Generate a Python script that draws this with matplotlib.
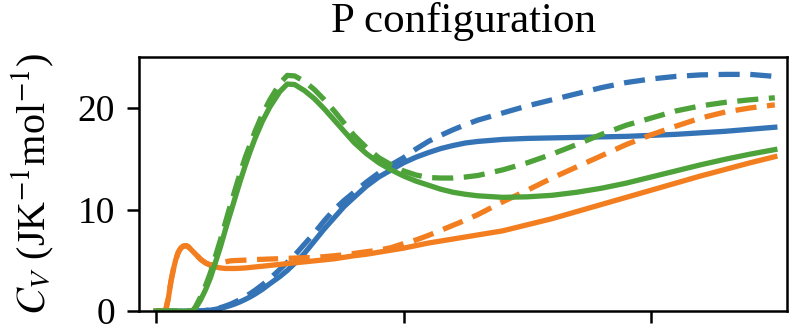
import matplotlib
matplotlib.use("Agg")
import matplotlib.pyplot as plt

# Temperature grid (K) shared by every curve
temperature = [0, 3, 4, 5, 6, 7, 8, 9, 10, 11, 12, 13, 14, 15, 16,
               18, 20, 22, 24, 26, 28, 30, 32, 34, 36, 38, 40,
               43, 46, 50, 53, 56, 60, 64, 68, 72, 76, 80, 85, 90, 95, 100,
               105, 110, 115, 120, 125, 130,
               140, 150, 160, 170, 180, 190, 200, 210, 220, 230, 240, 250]

# Heat capacity C_V (J K^-1 mol^-1), solid = one model, dashed = the other
blue_solid = [0, 0, 0, 0, 0, 0, 0, 0, 0, 0, 0, 0, 0, 0, 0,
              0.02, 0.05, 0.1, 0.18, 0.28, 0.4, 0.55, 0.72, 0.92, 1.15, 1.4, 1.68,
              2.15, 2.7, 3.4, 4.0, 4.7, 5.7, 6.9, 8.1, 9.2, 10.3, 11.2, 12.3, 13.2, 13.9, 14.6,
              15.15, 15.6, 16.0, 16.3, 16.55, 16.7,
              16.9, 17.0, 17.05, 17.1, 17.15, 17.2, 17.3, 17.4, 17.55, 17.7, 17.9, 18.1]
blue_dashed = [0, 0, 0, 0, 0, 0, 0, 0, 0, 0, 0, 0, 0, 0, 0,
               0.03, 0.07, 0.13, 0.22, 0.34, 0.5, 0.68, 0.9, 1.15, 1.42, 1.72, 2.05,
               2.6, 3.2, 4.1, 4.8, 5.5, 6.6, 7.7, 8.9, 10.0, 10.9, 11.7, 12.7, 13.6, 14.4, 15.1,
               15.95, 16.7, 17.3, 17.85, 18.35, 18.8,
               19.5, 20.2, 20.8, 21.4, 22.0, 22.5, 22.85, 23.1, 23.25, 23.3, 23.3, 23.1]
orange_solid = [0, 0, 0.2, 1.3, 2.9, 4.1, 5.1, 5.8, 6.2, 6.4, 6.45, 6.35, 6.1, 5.85, 5.6,
                5.1, 4.75, 4.5, 4.35, 4.25, 4.2, 4.2, 4.2, 4.22, 4.25, 4.3, 4.35,
                4.42, 4.5, 4.6, 4.68, 4.75, 4.85, 4.95, 5.05, 5.15, 5.3, 5.45, 5.6, 5.8, 6.0, 6.2,
                6.45, 6.7, 6.9, 7.1, 7.3, 7.5,
                7.9, 8.5, 9.1, 9.8, 10.5, 11.2, 11.9, 12.6, 13.3, 13.95, 14.6, 15.2]
orange_dashed = [0, 0, 0.2, 1.3, 2.9, 4.1, 5.1, 5.8, 6.2, 6.4, 6.45, 6.35, 6.1, 5.85, 5.6,
                 5.1, 4.75, 4.55, 4.6, 4.75, 4.85, 4.95, 4.98, 5.0, 5.02, 5.05, 5.08,
                 5.1, 5.13, 5.16, 5.2, 5.22, 5.26, 5.3, 5.36, 5.45, 5.55, 5.68, 5.85, 6.0, 6.25, 6.65,
                 7.0, 7.45, 7.95, 8.45, 8.95, 9.5,
                 10.75, 11.9, 13.1, 14.2, 15.3, 16.4, 17.35, 18.2, 19.0, 19.6, 20.0, 20.3]
green_solid = [0, 0, 0, 0, 0, 0, 0, 0, 0, 0, 0, 0, 0, 0.05, 0.3,
               1.1, 2.1, 3.3, 4.8, 6.3, 8.0, 9.6, 11.2, 12.8, 14.3, 15.7, 17.0,
               18.7, 20.1, 21.6, 22.35, 22.3, 21.7, 20.9, 19.9, 18.8, 17.7, 16.6, 15.5, 14.6, 13.9, 13.3,
               12.8, 12.4, 12.0, 11.7, 11.5, 11.35,
               11.2, 11.25, 11.4, 11.7, 12.1, 12.6, 13.2, 13.8, 14.4, 14.95, 15.45, 15.9]
green_dashed = [0, 0, 0, 0, 0, 0, 0, 0, 0, 0, 0, 0, 0, 0.1, 0.45,
                1.4, 2.5, 3.8, 5.4, 7.0, 8.7, 10.4, 12.0, 13.6, 15.1, 16.4, 17.7,
                19.4, 20.8, 22.4, 23.2, 23.15, 22.6, 21.8, 20.8, 19.7, 18.5, 17.3, 16.1, 15.1, 14.4, 13.8,
                13.4, 13.15, 13.1, 13.1, 13.2, 13.35,
                13.9, 14.6, 15.45, 16.4, 17.4, 18.3, 19.0, 19.7, 20.2, 20.55, 20.8, 21.0]

x_ticks = [0, 100, 200]
y_ticks = [0, 10, 20]

plt.rcParams["font.family"] = ["Liberation Serif", "DejaVu Serif"]
plt.rcParams["mathtext.fontset"] = "stix"

fig = plt.figure(figsize=(8.0, 3.36), dpi=100)
ax = fig.add_axes([0.174, 0.074, 0.81, 0.756])

lw = 3.8
dash = (4.0, 2.0)
series = [
    (blue_solid, blue_dashed, "#3474b6"),
    (orange_solid, orange_dashed, "#f27e1f"),
    (green_solid, green_dashed, "#4ea23a"),
]
for solid, dashed, color in series:
    ax.plot(temperature, solid, color=color, lw=lw)
    ax.plot(temperature, dashed, color=color, lw=lw, ls=(0, dash))

ax.set_xlim(-6.8, 255)
ax.set_ylim(0, 25)
ax.set_xticks(x_ticks)
ax.set_xticklabels([])
ax.set_yticks(y_ticks)
ax.tick_params(axis="both", length=8.5, width=1.8, labelsize=27, pad=9)
for sp in ax.spines.values():
    sp.set_linewidth(1.8)

ax.set_title("P configuration", fontsize=31, pad=18)
ax.set_ylabel(r"$C_V$ (JK$^{-1}$mol$^{-1}$)", fontsize=29)
ax.yaxis.set_label_coords(-0.128, 0.5)

fig.savefig("out.png", dpi=100)
